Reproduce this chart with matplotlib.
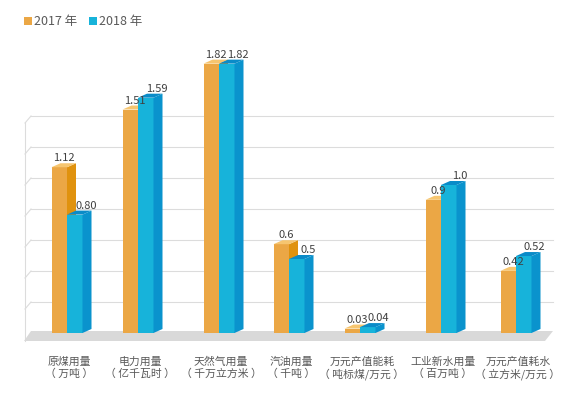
import matplotlib
matplotlib.use('Agg')
import matplotlib.pyplot as plt
from matplotlib.patches import Polygon, Rectangle

plt.rcParams['font.family'] = ['Noto Sans CJK SC', 'DejaVu Sans']

# Data
categories = ['原煤用量', '电力用量', '天然气用量', '汽油用量',
              '万元产值能耗', '工业新水用量', '万元产值耗水']
units = ['（ 万吨 ）', '（ 亿千瓦时 ）', '（ 千万立方米 ）', '（ 千吨 ）',
         '（ 吨标煤/万元 ）', '（ 百万吨 ）', '（ 立方米/万元 ）']
values_2017 = [1.12, 1.51, 1.82, 0.6, 0.03, 0.9, 0.42]
values_2018 = [0.80, 1.59, 1.82, 0.5, 0.04, 1.0, 0.52]
labels_2017 = ['1.12', '1.51', '1.82', '0.6', '0.03', '0.9', '0.42']
labels_2018 = ['0.80', '1.59', '1.82', '0.5', '0.04', '1.0', '0.52']
series = ['2017 年', '2018 年']

# Layout (pixels)
W, H = 576, 393
BASE = 333          # pixel row of bar bottoms
SCALE = 148         # pixels per unit
group_x = [67, 138, 219, 289, 360, 441, 516]
BAR_W = 15.5
DX = 9
DY = 4 / SCALE
GRID_STEP = 31 / SCALE

colors = {
    '2017 年': ('#EBA745', '#E0920E', '#F6C56F'),   # front, side, top
    '2018 年': ('#17B3DA', '#0A93CD', '#0A8BC8'),
}


def row(p):
    """pixel row (from top) -> value axis"""
    return (BASE - p) / SCALE


fig = plt.figure(figsize=(5.76, 3.93), dpi=100)
ax = fig.add_axes([0, 0, 1, 1])
ax.set_xlim(0, W)
ax.set_ylim(row(H), row(0))
ax.axis('off')

# Floor
ax.add_patch(Polygon([(24, row(341)), (545, row(341)), (553, row(331)), (31, row(331))],
                     closed=True, facecolor='#D9D9D9', edgecolor='none', zorder=1))

# Back wall gridlines
grid_color = '#DCDCDC'
top_gy = 0
for k in range(1, 8):
    gy = k * GRID_STEP
    ax.plot([31, 553], [gy, gy], color=grid_color, lw=0.8, zorder=0.5)
    ax.plot([25, 31], [gy - 7 / SCALE, gy], color=grid_color, lw=0.8, zorder=0.5)
    top_gy = gy
ax.plot([25, 25], [row(341), top_gy - 7 / SCALE], color=grid_color, lw=0.8, zorder=0.5)

# Bars
for s, (name, vals, labs) in enumerate(zip(series, [values_2017, values_2018],
                                             [labels_2017, labels_2018])):
    front, side, top = colors[name]
    z = 3 + s
    x0s = [gx - BAR_W if s == 0 else gx for gx in group_x]
    ax.bar(x0s, vals, width=BAR_W, align='edge', color=front, linewidth=0, zorder=z)
    for x0, v, lab in zip(x0s, vals, labs):
        x1 = x0 + BAR_W
        ax.fill([x1, x1 + DX, x1 + DX, x1], [0, DY, v + DY, v], color=side, lw=0, zorder=z)
        ax.fill([x0, x1, x1 + DX, x0 + DX], [v, v, v + DY, v + DY], color=top, lw=0, zorder=z)
        off = 5 if s == 0 else 11
        ax.text(x0 + BAR_W / 2 + off, v + DY, lab, ha='center', va='bottom',
                fontsize=8, color='#404040', zorder=6)

# Category labels
for gx, cat, unit in zip(group_x, categories, units):
    ax.text(gx + 2, row(362), cat, ha='center', va='center', fontsize=7.8, color='#595959')
    ax.text(gx + 2, row(374), unit, ha='center', va='center', fontsize=7.8, color='#595959')

# Legend
for lx, name in zip([24, 89], series):
    ax.add_patch(Rectangle((lx, row(25)), 8, 8 / SCALE, facecolor=colors[name][0],
                           edgecolor='none', zorder=5))
    ax.text(lx + 10, row(21), name, ha='left', va='center', fontsize=9, color='#595959')

fig.savefig('out.png', dpi=100)
